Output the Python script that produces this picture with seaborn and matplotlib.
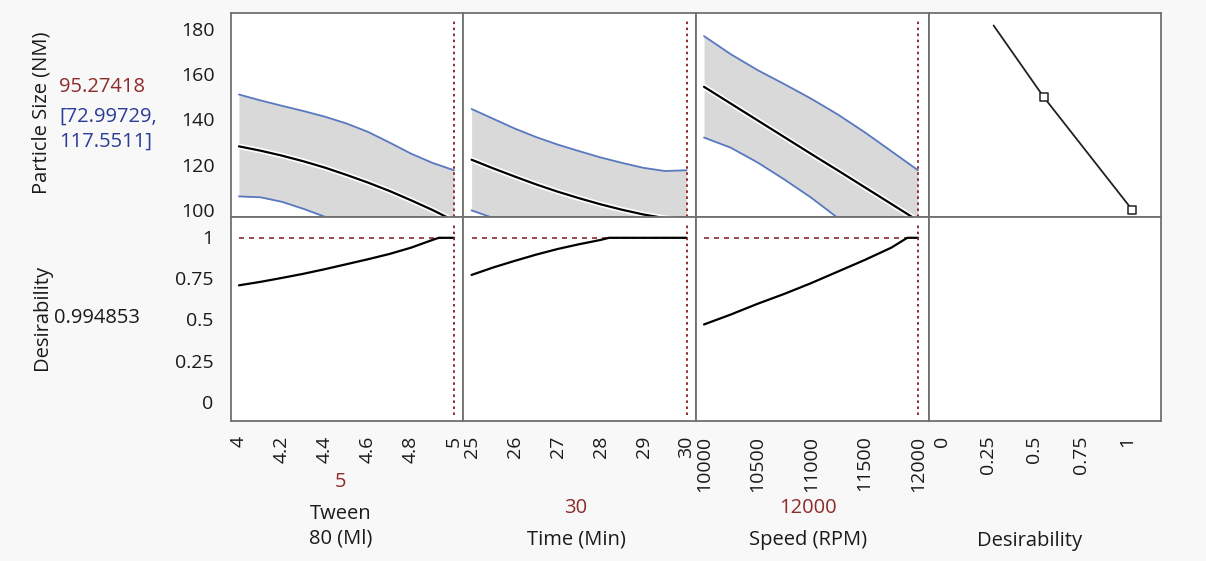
import numpy as np
import pandas as pd
import matplotlib
matplotlib.use("Agg")
import matplotlib.pyplot as plt
import matplotlib.patheffects as pe
from matplotlib.ticker import FixedLocator
import seaborn as sns

# ---------------- data ----------------
tween_x = [4.0, 4.1, 4.2, 4.3, 4.4, 4.5, 4.6, 4.7, 4.8, 4.9, 5.0]
tween_mean = [128.1, 126.2, 124.0, 121.5, 118.7, 115.5, 112.1, 108.4, 104.3, 100.0, 95.27]
tween_upper = [151.0, 148.4, 146.0, 143.7, 141.2, 138.2, 134.5, 129.8, 124.9, 120.8, 117.55]
tween_lower = [106.0, 105.6, 103.6, 100.5, 97.0, 92.5, 89.4, 87.2, 84.1, 79.4, 73.0]
tween_des_x = [4.0, 4.1, 4.2, 4.3, 4.4, 4.5, 4.6, 4.7, 4.8, 4.9, 4.93, 5.0]
tween_des = [0.707, 0.728, 0.752, 0.777, 0.805, 0.835, 0.865, 0.897, 0.935, 0.982, 0.995, 0.995]

time_x = [25, 25.5, 26, 26.5, 27, 27.5, 28, 28.5, 29, 29.5, 30]
time_mean = [122.2, 118.4, 114.8, 111.3, 108.1, 105.2, 102.5, 100.1, 98.0, 96.4, 95.27]
time_upper = [144.6, 140.3, 136.0, 132.2, 128.9, 126.0, 123.2, 120.8, 118.6, 117.2, 117.55]
time_lower = [99.8, 96.5, 93.6, 90.4, 87.3, 84.4, 81.8, 79.4, 77.4, 75.6, 73.0]
time_des_x = [25, 25.5, 26, 26.5, 27, 27.5, 28, 28.2, 29, 30]
time_des = [0.77, 0.815, 0.855, 0.893, 0.927, 0.956, 0.982, 0.995, 0.995, 0.995]

speed_x = [10000, 10250, 10500, 10750, 11000, 11250, 11500, 11750, 12000]
speed_mean = [154.4, 147.0, 139.6, 132.2, 124.8, 117.5, 110.1, 102.7, 95.27]
speed_upper = [176.8, 168.8, 161.8, 155.6, 149.2, 142.2, 134.4, 126.0, 117.55]
speed_lower = [132.0, 127.5, 121.0, 113.5, 105.5, 96.5, 88.0, 80.5, 73.0]
speed_des_x = [10000, 10250, 10500, 10750, 11000, 11250, 11500, 11750, 11900, 12000]
speed_des = [0.47, 0.53, 0.595, 0.655, 0.72, 0.79, 0.86, 0.935, 0.995, 0.995]

desfun_d = [0.28, 0.55, 1.03]
desfun_size = [181.5, 150.0, 100.0]

current_settings = [5, 30, 12000]
current_desirability = 0.994853
pred_text = "95.27418"
ci_text = "[72.99729,\n117.5511]"
des_text = "0.994853"

factor_labels = ["Tween\n80 (Ml)", "Time (Min)", "Speed (RPM)", "Desirability"]
row_labels = ["Particle Size (NM)", "Desirability"]

tween_ticks = [4, 4.2, 4.4, 4.6, 4.8, 5]
tween_ticklabels = ["4", "4.2", "4.4", "4.6", "4.8", "5"]
time_ticks = [25, 26, 27, 28, 29, 30]
time_ticklabels = ["25", "26", "27", "28", "29", "30"]
speed_ticks = [10000, 10500, 11000, 11500, 12000]
speed_ticklabels = ["10000", "10500", "11000", "11500", "12000"]
speed_minor = [10250, 10750, 11250, 11750]
des_ticks = [0, 0.25, 0.5, 0.75, 1]
des_ticklabels = ["0", "0.25", "0.5", "0.75", "1"]
size_ticks = [100, 120, 140, 160, 180]
size_ticklabels = ["100", "120", "140", "160", "180"]
size_minor = [110, 130, 150, 170]

# ---------------- styling ----------------
sns.set_theme(style="white")
plt.rcParams['font.family'] = ['Open Sans', 'DejaVu Sans']

BG = "#f8f8f8"
SPINE = "#707070"
RED = "#8e2b2b"
BLUE = "#2b3c96"
BAND = "#d9d9d9"
BAND_EDGE = "#5878c0"
FS = 14.5
TFS = 14

W, H = 1206, 561
fig = plt.figure(figsize=(W / 100, H / 100), dpi=100, facecolor=BG)

col_edges = [231, 463, 696, 929, 1161]
row_edges = [13, 217, 421]


def make_ax(r, c):
    x0, x1 = col_edges[c], col_edges[c + 1]
    y0, y1 = row_edges[r], row_edges[r + 1]
    ax = fig.add_axes([x0 / W, 1 - y1 / H, (x1 - x0) / W, (y1 - y0) / H])
    ax.set_facecolor("white")
    for s in ax.spines.values():
        s.set_color(SPINE)
        s.set_linewidth(1.3)
        s.set_visible(True)
    ax.tick_params(colors=SPINE, labelcolor="#1a1a1a", labelsize=TFS,
                   length=7.5, width=1.1, direction="out")
    ax.tick_params(which="minor", colors=SPINE, length=4, width=1.0, direction="out")
    ax.set_xlabel("")
    ax.set_ylabel("")
    return ax


xlims = [(3.963, 5.042), (24.80, 30.22), (9925, 12103), (-0.069, 1.185)]
top_ylim = (96.9, 187.0)
bot_ylim = (-0.115, 1.121)

factors = [
    (tween_x, tween_mean, tween_upper, tween_lower, tween_des_x, tween_des,
     tween_ticks, tween_ticklabels, None),
    (time_x, time_mean, time_upper, time_lower, time_des_x, time_des,
     time_ticks, time_ticklabels, None),
    (speed_x, speed_mean, speed_upper, speed_lower, speed_des_x, speed_des,
     speed_ticks, speed_ticklabels, speed_minor),
]

halo = [pe.Stroke(linewidth=4.0, foreground="white"), pe.Normal()]
dot_style = dict(color=RED, linestyle=(0, (1.3, 1.8)), linewidth=1.4)
dash_style = dict(color=RED, linestyle=(0, (3, 3)), linewidth=1.2)

for c, (fx, fm, fu, fl, dx, dy, ticks, tlabels, minor) in enumerate(factors):
    # ---- top row: prediction with confidence band ----
    ax = make_ax(0, c)
    df = pd.DataFrame({"x": fx, "mean": fm, "upper": fu, "lower": fl})
    ax.fill_between(df["x"], df["lower"], df["upper"], color=BAND, linewidth=0, zorder=1)
    sns.lineplot(data=df, x="x", y="upper", ax=ax, color=BAND_EDGE, lw=1.3,
                 estimator=None, sort=False, zorder=2)
    sns.lineplot(data=df, x="x", y="lower", ax=ax, color=BAND_EDGE, lw=1.3,
                 estimator=None, sort=False, zorder=2)
    sns.lineplot(data=df, x="x", y="mean", ax=ax, color="black", lw=1.6,
                 estimator=None, sort=False, zorder=3, path_effects=halo)
    ax.axvline(current_settings[c], ymin=0.0, ymax=0.966, **dot_style, zorder=4)
    ax.set_xlim(*xlims[c])
    ax.set_ylim(*top_ylim)
    ax.set_xticks([])
    if c == 0:
        ax.yaxis.set_major_locator(FixedLocator(size_ticks))
        ax.set_yticklabels(size_ticklabels)
        ax.yaxis.set_minor_locator(FixedLocator(size_minor))
        ax.tick_params(axis="y", which="minor", length=7.5)
        ax.tick_params(axis="y", pad=4)
    else:
        ax.set_yticks([])
    ax.set_xlabel("")
    ax.set_ylabel("")

    # ---- bottom row: desirability trace ----
    ax = make_ax(1, c)
    dd = pd.DataFrame({"x": dx, "d": dy})
    sns.lineplot(data=dd, x="x", y="d", ax=ax, color="black", lw=1.6,
                 estimator=None, sort=False, zorder=3)
    ax.hlines(current_desirability, fx[0], fx[-1], **dash_style, zorder=2)
    ax.axvline(current_settings[c], ymin=0.03, ymax=0.96, **dot_style, zorder=4)
    ax.set_xlim(*xlims[c])
    ax.set_ylim(*bot_ylim)
    ax.xaxis.set_major_locator(FixedLocator(ticks))
    ax.set_xticklabels(tlabels, rotation=90)
    ax.tick_params(axis="x", pad=3)
    if minor is not None:
        ax.xaxis.set_minor_locator(FixedLocator(minor))
    if c == 0:
        ax.yaxis.set_major_locator(FixedLocator(des_ticks))
        ax.set_yticklabels(des_ticklabels)
        ax.tick_params(axis="y", pad=5)
    else:
        ax.set_yticks([])
    ax.set_xlabel("")
    ax.set_ylabel("")

# ---- desirability function column ----
ax = make_ax(0, 3)
dfun = pd.DataFrame({"d": desfun_d, "size": desfun_size})
sns.lineplot(data=dfun, x="d", y="size", ax=ax, color="#222222", lw=1.3,
             estimator=None, sort=False, zorder=2)
ax.scatter(desfun_d[1:], desfun_size[1:], marker="s", s=38, facecolor="white",
           edgecolor="#222222", linewidth=1.1, zorder=3, clip_on=False)
ax.set_xlim(*xlims[3])
ax.set_ylim(*top_ylim)
ax.set_xticks([])
ax.set_yticks([])
ax.set_xlabel("")
ax.set_ylabel("")

ax = make_ax(1, 3)
ax.set_xlim(*xlims[3])
ax.set_ylim(*bot_ylim)
ax.xaxis.set_major_locator(FixedLocator(des_ticks))
ax.set_xticklabels(des_ticklabels, rotation=90)
ax.tick_params(axis="x", pad=3)
ax.set_yticks([])
ax.set_xlabel("")
ax.set_ylabel("")

# ---------------- texts ----------------
def fx_(px):
    return px / W


def fy_(py):
    return 1 - py / H


fig.text(fx_(42), fy_(113), row_labels[0], rotation=90, ha="center", va="center",
         fontsize=FS, color="#1a1a1a")
fig.text(fx_(42), fy_(317), row_labels[1], rotation=90, ha="center", va="center",
         fontsize=FS, color="#1a1a1a")
fig.text(fx_(59), fy_(87), pred_text, ha="left", va="center", fontsize=FS, color=RED)
fig.text(fx_(59), fy_(129), ci_text, ha="left", va="center", fontsize=FS, color=BLUE,
         linespacing=1.3)
fig.text(fx_(54), fy_(318), des_text, ha="left", va="center", fontsize=FS, color="#1a1a1a")

centers = [341, 576, 808, 1030]
fig.text(fx_(centers[0]), fy_(482), str(current_settings[0]), ha="center", va="center",
         fontsize=FS, color=RED)
fig.text(fx_(centers[0]), fy_(526), factor_labels[0], ha="center", va="center",
         fontsize=FS, color="#1a1a1a", linespacing=1.3)
fig.text(fx_(centers[1]), fy_(508), str(current_settings[1]), ha="center", va="center",
         fontsize=FS, color=RED)
fig.text(fx_(centers[1]), fy_(540), factor_labels[1], ha="center", va="center",
         fontsize=FS, color="#1a1a1a")
fig.text(fx_(centers[2]), fy_(508), str(current_settings[2]), ha="center", va="center",
         fontsize=FS, color=RED)
fig.text(fx_(centers[2]), fy_(540), factor_labels[2], ha="center", va="center",
         fontsize=FS, color="#1a1a1a")
fig.text(fx_(centers[3]), fy_(541), factor_labels[3], ha="center", va="center",
         fontsize=FS, color="#1a1a1a")

fig.savefig("out.png", dpi=100, facecolor=BG)
